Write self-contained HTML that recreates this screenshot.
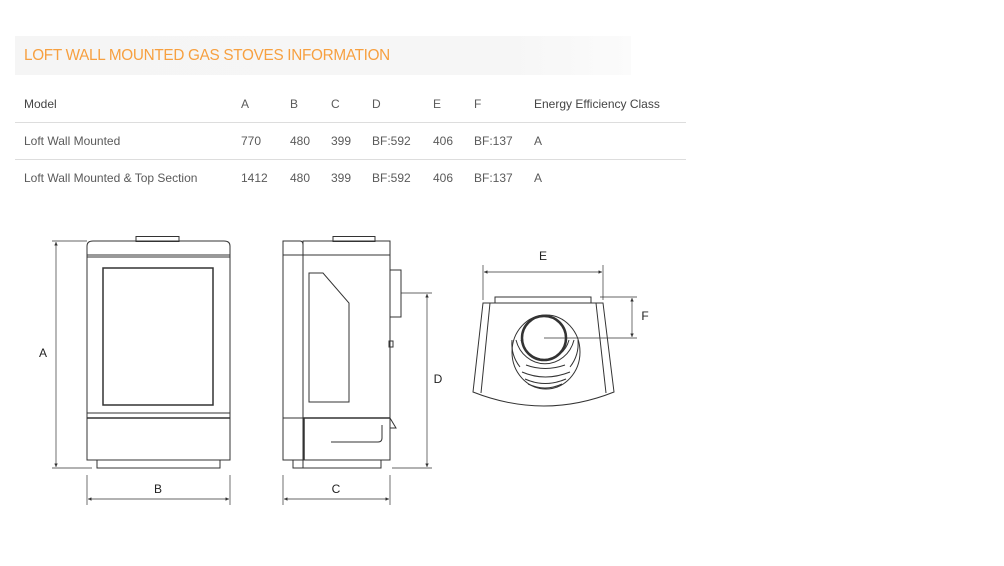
<!DOCTYPE html>
<html><head><meta charset="utf-8"><style>
body{margin:0;width:1004px;height:566px;background:#fff;font-family:"Liberation Sans",sans-serif;position:relative;overflow:hidden}
.hd{position:absolute;left:15px;top:36px;width:616px;height:39px;background:linear-gradient(90deg,#f5f5f5 0%,#f6f6f6 80%,#fbfbfb 100%)}
.hd span{position:absolute;left:9px;top:11px;font-size:15.3px;color:#f7a040;letter-spacing:-0.3px}
.t{position:absolute;font-size:12px;color:#5a5a5a}
.ln{position:absolute;left:15px;width:671px;height:1px;background:#ddd}
</style></head><body>
<div class="hd"><span>LOFT WALL MOUNTED GAS STOVES INFORMATION</span></div>
<div class="t" style="left:24px;top:97px;color:#444">Model</div>
<div class="t" style="left:241px;top:97px">A</div>
<div class="t" style="left:290px;top:97px">B</div>
<div class="t" style="left:331px;top:97px">C</div>
<div class="t" style="left:372px;top:97px">D</div>
<div class="t" style="left:433px;top:97px">E</div>
<div class="t" style="left:474px;top:97px">F</div>
<div class="t" style="left:534px;top:97px;color:#444">Energy Efficiency Class</div>
<div class="ln" style="top:122px"></div>
<div class="t" style="left:24px;top:134px">Loft Wall Mounted</div>
<div class="t" style="left:241px;top:134px">770</div>
<div class="t" style="left:290px;top:134px">480</div>
<div class="t" style="left:331px;top:134px">399</div>
<div class="t" style="left:372px;top:134px">BF:592</div>
<div class="t" style="left:433px;top:134px">406</div>
<div class="t" style="left:474px;top:134px">BF:137</div>
<div class="t" style="left:534px;top:134px">A</div>
<div class="ln" style="top:159px"></div>
<div class="t" style="left:24px;top:171px">Loft Wall Mounted &amp; Top Section</div>
<div class="t" style="left:241px;top:171px">1412</div>
<div class="t" style="left:290px;top:171px">480</div>
<div class="t" style="left:331px;top:171px">399</div>
<div class="t" style="left:372px;top:171px">BF:592</div>
<div class="t" style="left:433px;top:171px">406</div>
<div class="t" style="left:474px;top:171px">BF:137</div>
<div class="t" style="left:534px;top:171px">A</div>

<svg width="1004" height="566" style="position:absolute;left:0;top:0" fill="none" stroke="#333" stroke-width="1">
<defs><marker id="ar" viewBox="0 0 10 10" refX="10" refY="5" markerWidth="7" markerHeight="5" orient="auto-start-reverse"><path d="M0,0L10,5L0,10z" fill="#333" stroke="none"/></marker></defs>
<rect x="136" y="236.5" width="43" height="5"/>
<path d="M87,255V246Q87,241 93,241H224Q230,241 230,246V255Z"/>
<rect x="87" y="255" width="143" height="205"/>
<line x1="87" y1="257" x2="230" y2="257"/>
<rect x="103" y="268" width="110" height="137" stroke-width="1.5"/>
<line x1="87" y1="413" x2="230" y2="413"/>
<line x1="87" y1="418" x2="230" y2="418" stroke-width="1.5"/>
<rect x="97" y="460" width="123" height="8"/>
<line x1="52" y1="241" x2="87" y2="241" stroke-width=".7"/>
<line x1="52" y1="468" x2="92" y2="468" stroke-width=".7"/>
<line x1="56" y1="242" x2="56" y2="467" stroke-width=".7" marker-start="url(#ar)" marker-end="url(#ar)"/>
<line x1="87" y1="475" x2="87" y2="505" stroke-width=".7"/>
<line x1="230" y1="475" x2="230" y2="505" stroke-width=".7"/>
<line x1="88" y1="499" x2="229" y2="499" stroke-width=".7" marker-start="url(#ar)" marker-end="url(#ar)"/>
<rect x="333" y="236.5" width="42" height="5"/>
<path d="M283,255V241H300Q303,241 303,245V255"/>
<rect x="303" y="241" width="87" height="14"/>
<rect x="283" y="255" width="20" height="205"/>
<rect x="303" y="255" width="87" height="205"/>
<path d="M309,273H323L349,303V402H309Z"/>
<line x1="303" y1="418" x2="390" y2="418" stroke-width="1.5"/>
<line x1="283" y1="418" x2="303" y2="418"/>
<line x1="304" y1="418" x2="304" y2="460" stroke-width="1.5"/>
<path d="M331,442H378Q382,442 382,438V425"/>
<path d="M390,418L396,428H390"/>
<rect x="390" y="270" width="11" height="47"/>
<rect x="389" y="341" width="4" height="6"/>
<rect x="293" y="460" width="88" height="8"/>
<line x1="303" y1="460" x2="303" y2="468"/>
<line x1="401" y1="293" x2="432" y2="293" stroke-width=".7"/>
<line x1="392" y1="468" x2="432" y2="468" stroke-width=".7"/>
<line x1="427" y1="294" x2="427" y2="467" stroke-width=".7" marker-start="url(#ar)" marker-end="url(#ar)"/>
<line x1="283" y1="475" x2="283" y2="505" stroke-width=".7"/>
<line x1="390" y1="475" x2="390" y2="505" stroke-width=".7"/>
<line x1="284" y1="499" x2="389" y2="499" stroke-width=".7" marker-start="url(#ar)" marker-end="url(#ar)"/>
<line x1="483" y1="265" x2="483" y2="300" stroke-width=".7"/>
<line x1="603" y1="265" x2="603" y2="300" stroke-width=".7"/>
<line x1="484" y1="272" x2="602" y2="272" stroke-width=".7" marker-start="url(#ar)" marker-end="url(#ar)"/>
<rect x="495" y="297" width="96" height="6"/>
<path d="M483,303H603L614,392Q544,420 473,392Z"/>
<line x1="490" y1="303" x2="481" y2="393"/>
<line x1="596" y1="303" x2="606" y2="393"/>
<ellipse cx="546" cy="352" rx="34" ry="37"/>
<circle cx="544" cy="338" r="22" stroke-width="2.5"/>
<path d="M516,340A30,32 0 0 0 574,340"/>
<path d="M521,340A25,27 0 0 0 569,340"/>
<path d="M526,365Q545,372 565,365M522,372Q545,382 570,372M525,379Q545,388 566,379M528,384Q545,392 562,384"/>
<path d="M512,340A35,37 0 0 0 520,367M578,340A35,37 0 0 1 570,367"/>
<line x1="600" y1="297" x2="637" y2="297" stroke-width=".7"/>
<line x1="544" y1="338" x2="637" y2="338" stroke-width=".7"/>
<line x1="632" y1="298" x2="632" y2="337" stroke-width=".7" marker-start="url(#ar)" marker-end="url(#ar)"/>
<g fill="#222" stroke="none" font-size="12" font-family="Liberation Sans,sans-serif" text-anchor="middle">
<text x="43" y="357">A</text><text x="158" y="493">B</text><text x="336" y="493">C</text><text x="438" y="383">D</text><text x="543" y="260">E</text><text x="645" y="320">F</text>
</g>
</svg>
</body></html>
